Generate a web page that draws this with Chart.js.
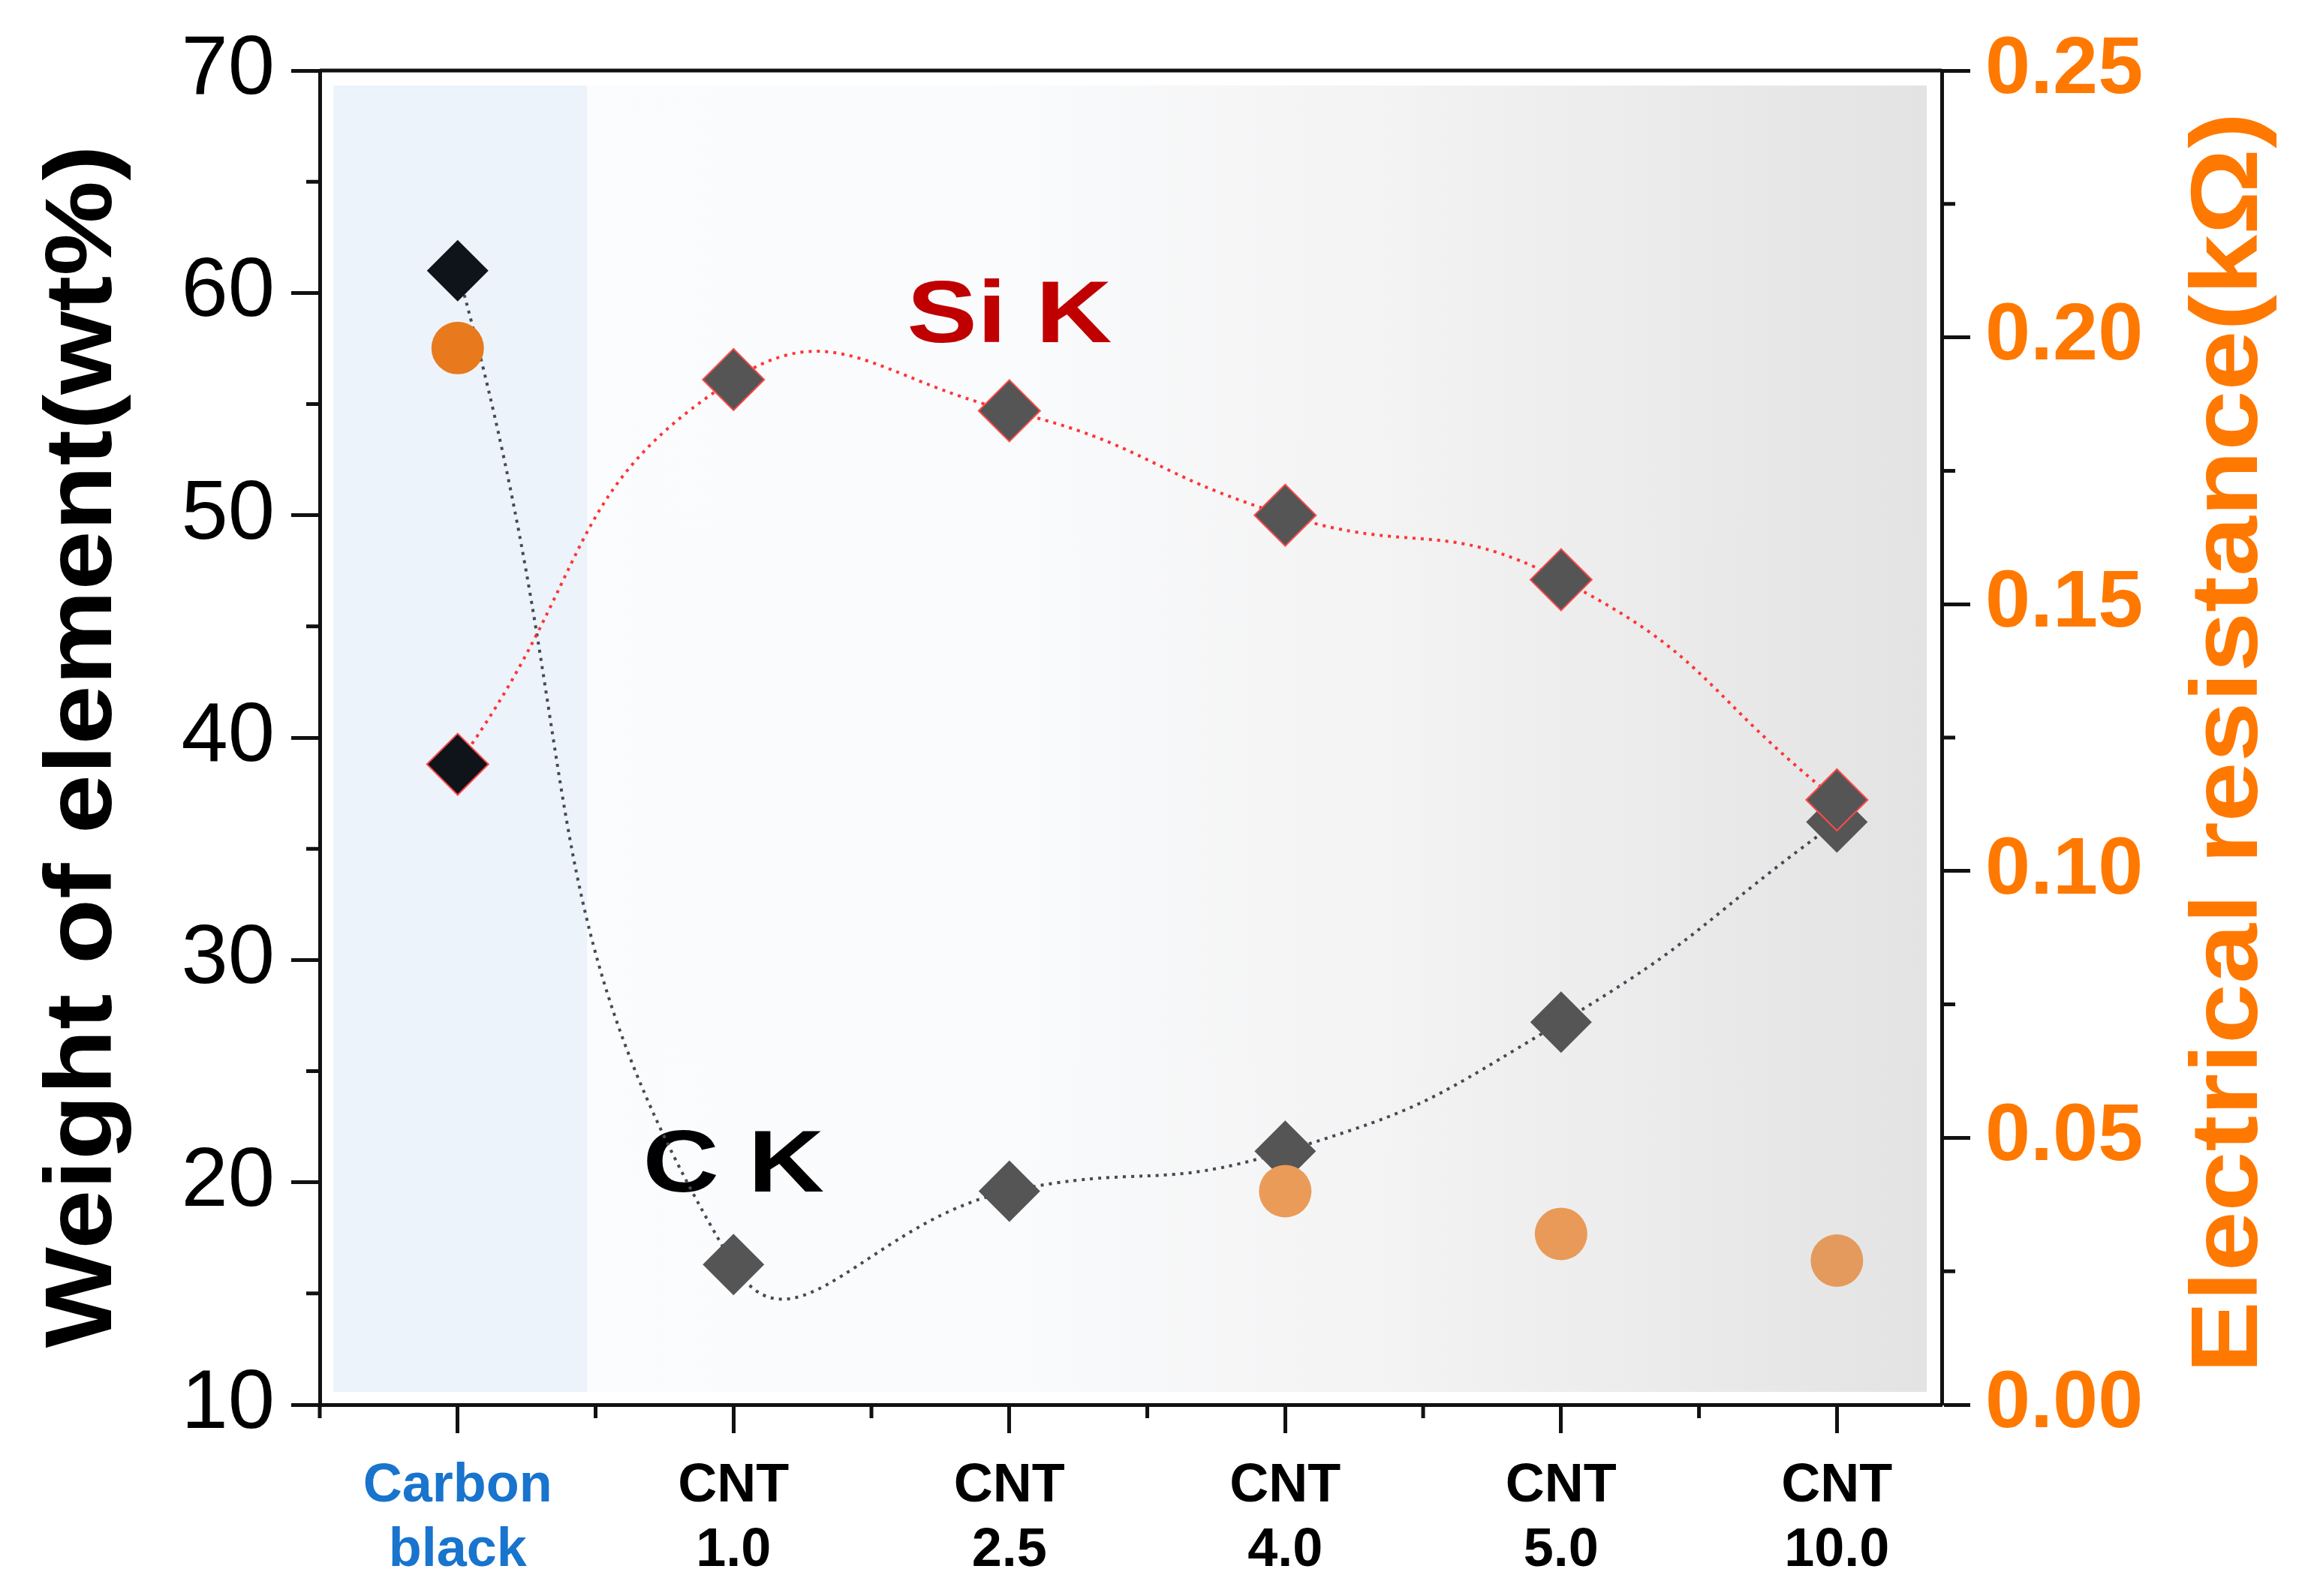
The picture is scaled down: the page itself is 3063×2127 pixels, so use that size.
<!DOCTYPE html>
<html>
<head>
<meta charset="utf-8">
<script src="https://cdn.jsdelivr.net/npm/chart.js@4.4.1/dist/chart.umd.min.js"></script>
<style>
  html, body { margin: 0; padding: 0; background: #fff; }
  canvas { display: block; }
</style>
</head>
<body>
<canvas id="chart" width="3063" height="2127"></canvas>
<script>
// values
const categories = [["Carbon", "black"], ["CNT", "1.0"], ["CNT", "2.5"], ["CNT", "4.0"], ["CNT", "5.0"], ["CNT", "10.0"]];
const siK = [38.8, 56.1, 54.7, 50.0, 47.1, 37.2];
const cK = [61.0, 16.3, 19.6, 21.4, 27.2, 36.2];
const resistance = [0.198, null, null, 0.040, 0.032, 0.027];
const weightTicks = [10, 20, 30, 40, 50, 60, 70];
const resistanceTicks = [0, 0.05, 0.10, 0.15, 0.20, 0.25];

const AXIS = "#111111";
const ORANGE = "#ff7800";

const toPoints = (arr) => arr.map((v, i) => ({ x: i, y: v }));

function drawVertical(ctx, text, x, y, font, color, stretch) {
  ctx.save();
  ctx.translate(x, y);
  ctx.rotate(-Math.PI / 2);
  ctx.scale(stretch, 1);
  ctx.font = font;
  ctx.fillStyle = color;
  ctx.textAlign = "center";
  ctx.textBaseline = "alphabetic";
  ctx.fillText(text, 0, 0);
  ctx.restore();
}

function drawLabel(ctx, text, x, y, color) {
  ctx.save();
  ctx.translate(x, y);
  ctx.scale(1.2, 1);
  ctx.font = "bold 117px 'Liberation Sans', Arial, sans-serif";
  ctx.fillStyle = color;
  ctx.textAlign = "center";
  ctx.textBaseline = "alphabetic";
  ctx.fillText(text, 0, 42);
  ctx.restore();
}

const decor = {
  id: "decor",
  beforeDatasetsDraw(chart) {
    const { ctx, chartArea: a, scales } = chart;
    const l = a.left + 18, t = a.top + 20, r = a.right - 20, b = a.bottom - 17;
    const split = scales.x.getPixelForValue(0.47);
    ctx.save();
    ctx.fillStyle = "#edf3fa";
    ctx.fillRect(l, t, split - l, b - t);
    const g = ctx.createLinearGradient(split, 0, r, 0);
    g.addColorStop(0, "#fbfcfe");
    g.addColorStop(0.3, "#fafbfc");
    g.addColorStop(0.6, "#f3f3f4");
    g.addColorStop(1, "#e3e3e3");
    ctx.fillStyle = g;
    ctx.fillRect(split, t, r - split, b - t);
    ctx.restore();

    drawLabel(ctx, "Si K", scales.x.getPixelForValue(2.0), scales.y.getPixelForValue(59.2), "#c00000");
    drawLabel(ctx, "C K", scales.x.getPixelForValue(1.0), scales.y.getPixelForValue(21.0), "#000000");
  },
  afterDraw(chart) {
    const { ctx, chartArea: a, scales } = chart;
    ctx.save();
    ctx.strokeStyle = AXIS;
    ctx.lineWidth = 5;
    ctx.beginPath();
    ctx.moveTo(a.left, a.top);
    ctx.lineTo(a.right, a.top);
    // minor ticks
    for (let v = 15; v < 70; v += 10) {
      const y = scales.y.getPixelForValue(v);
      ctx.moveTo(a.left, y);
      ctx.lineTo(a.left - 18, y);
    }
    for (let v = 0.025; v < 0.25; v += 0.05) {
      const y = scales.y1.getPixelForValue(v);
      ctx.moveTo(a.right, y);
      ctx.lineTo(a.right + 18, y);
    }
    for (let v = -0.5; v < 5; v += 1) {
      const x = scales.x.getPixelForValue(v);
      ctx.moveTo(x, a.bottom);
      ctx.lineTo(x, a.bottom + 18);
    }
    ctx.stroke();
    ctx.restore();

    drawVertical(ctx, "Weight of element(wt%)", 148, 995,
      "bold 126px 'Liberation Sans', Arial, sans-serif", "#000000", 1.13);
    drawVertical(ctx, "Electrical resistance(k\u03A9)", 3007, 990,
      "bold 126px 'Liberation Sans', Arial, sans-serif", ORANGE, 1.14);
  }
};

const ctx = document.getElementById("chart").getContext("2d");
new Chart(ctx, {
  type: "line",
  data: {
    datasets: [
      {
        label: "Electrical resistance",
        data: toPoints(resistance),
        yAxisID: "y1",
        showLine: false,
        pointStyle: "circle",
        pointRadius: 35,
        pointBorderWidth: 0,
        pointBackgroundColor: ["#e8791c", null, null, "#eb9b58", "#e99a58", "#e49a5c"],
      },
      {
        label: "Si K",
        data: toPoints(siK),
        yAxisID: "y",
        borderColor: "#ff3535",
        borderWidth: 4,
        borderDash: [4, 7],
        tension: 0.5,
        pointStyle: "rectRot",
        pointRadius: 41,
        pointBackgroundColor: ["#0f141b", "#555555", "#555555", "#555555", "#555555", "#555555"],
        pointBorderColor: "#ff4a4a",
        pointBorderWidth: 2,
      },
      {
        label: "C K",
        data: toPoints(cK),
        yAxisID: "y",
        borderColor: "#454a52",
        borderWidth: 4,
        borderDash: [4, 7],
        tension: 0.5,
        pointStyle: "rectRot",
        pointRadius: 41,
        pointBackgroundColor: ["#0f141b", "#555555", "#555555", "#555555", "#555555", "#555555"],
        pointBorderWidth: 0,
      },
    ],
  },
  options: {
    responsive: false,
    animation: false,
    devicePixelRatio: 1,
    layout: { padding: { top: 94, left: 0, right: 0, bottom: 0 } },
    plugins: { legend: { display: false }, tooltip: { enabled: false } },
    scales: {
      x: {
        type: "linear",
        min: -0.5,
        max: 5.38,
        afterFit: (scale) => { scale.height = 255; },
        border: { color: AXIS, width: 5 },
        grid: { drawOnChartArea: false, tickLength: 38, tickWidth: 5, tickColor: AXIS },
        ticks: {
          stepSize: 1,
          includeBounds: false,
          maxRotation: 0,
          autoSkip: false,
          padding: 28,
          font: { family: "'Liberation Sans', Arial, sans-serif", size: 72, weight: "bold", lineHeight: 1.2 },
          color: (c) => (c.tick && c.tick.value === 0 ? "#1874cd" : "#000000"),
          callback: (v) => categories[v] || "",
        },
      },
      y: {
        position: "left",
        min: weightTicks[0],
        max: weightTicks[weightTicks.length - 1],
        afterFit: (scale) => { scale.width = 426; },
        border: { color: AXIS, width: 5 },
        grid: { drawOnChartArea: false, tickLength: 38, tickWidth: 5, tickColor: AXIS },
        ticks: {
          stepSize: 10,
          padding: 22,
          font: { family: "'Liberation Sans', Arial, sans-serif", size: 112 },
          color: "#000000",
          callback: (v) => (weightTicks.includes(v) ? String(v) : ""),
        },
      },
      y1: {
        position: "right",
        min: resistanceTicks[0],
        max: resistanceTicks[resistanceTicks.length - 1],
        afterFit: (scale) => { scale.width = 476; },
        border: { color: AXIS, width: 5 },
        grid: { drawOnChartArea: false, tickLength: 38, tickWidth: 5, tickColor: AXIS },
        ticks: {
          stepSize: 0.05,
          padding: 20,
          font: { family: "'Liberation Sans', Arial, sans-serif", size: 108, weight: "bold" },
          color: ORANGE,
          callback: (v) => v.toFixed(2),
        },
      },
    },
  },
  plugins: [decor],
});
</script>
</body>
</html>
